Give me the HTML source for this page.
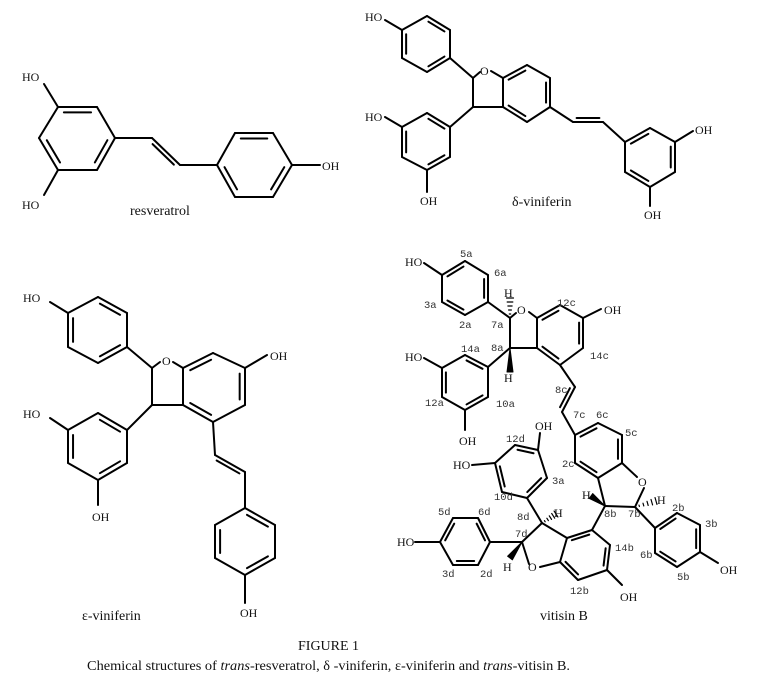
<!DOCTYPE html>
<html><head><meta charset="utf-8"><style>
html,body{margin:0;padding:0;background:#fff;}
svg{display:block;}
text{font-family:"Liberation Serif",serif;fill:#111;}
.t{font-size:12px;}
.l{font-family:"Liberation Mono",monospace;font-size:10.5px;fill:#333;}
.n{font-size:14px;}
</style></head><body>
<svg id="s" width="764" height="673" viewBox="0 0 764 673" xmlns="http://www.w3.org/2000/svg">
<g id="g" stroke="#000" stroke-width="2" fill="none" stroke-linecap="round" stroke-linejoin="round"></g>
<text class="t" x="22" y="81">HO</text>
<text class="t" x="22" y="209">HO</text>
<text class="t" x="322" y="170">OH</text>
<text class="n" x="130" y="215">resveratrol</text>
<text class="t" x="365" y="21">HO</text>
<text class="t" x="480" y="75">O</text>
<text class="t" x="365" y="121">HO</text>
<text class="t" x="420" y="205">OH</text>
<text class="t" x="695" y="134">OH</text>
<text class="t" x="644" y="219">OH</text>
<text class="n" x="512" y="206">δ-viniferin</text>
<text class="t" x="23" y="302">HO</text>
<text class="t" x="162" y="365">O</text>
<text class="t" x="270" y="360">OH</text>
<text class="t" x="23" y="418">HO</text>
<text class="t" x="92" y="521">OH</text>
<text class="t" x="240" y="617">OH</text>
<text class="n" x="82" y="620">ε-viniferin</text>
<text class="t" x="405" y="266">HO</text>
<text class="t" x="504" y="297">H</text>
<text class="t" x="517" y="314">O</text>
<text class="t" x="604" y="314">OH</text>
<text class="t" x="504" y="382">H</text>
<text class="t" x="405" y="361">HO</text>
<text class="t" x="459" y="445">OH</text>
<text class="t" x="535" y="430">OH</text>
<text class="t" x="453" y="469">HO</text>
<text class="t" x="638" y="486">O</text>
<text class="t" x="582" y="499">H</text>
<text class="t" x="657" y="504">H</text>
<text class="t" x="554" y="517">H</text>
<text class="t" x="397" y="546">HO</text>
<text class="t" x="503" y="571">H</text>
<text class="t" x="528" y="571">O</text>
<text class="t" x="620" y="601">OH</text>
<text class="t" x="720" y="574">OH</text>
<text class="n" x="540" y="620">vitisin B</text>
<g class="l">
<text class="l" x="460" y="257">5a</text><text class="l" x="494" y="276">6a</text>
<text class="l" x="424" y="308">3a</text><text class="l" x="459" y="328">2a</text>
<text class="l" x="491" y="328">7a</text><text class="l" x="491" y="351">8a</text>
<text class="l" x="461" y="352">14a</text><text class="l" x="425" y="406">12a</text>
<text class="l" x="496" y="407">10a</text><text class="l" x="557" y="306">12c</text>
<text class="l" x="590" y="359">14c</text><text class="l" x="555" y="393">8c</text>
<text class="l" x="573" y="418">7c</text><text class="l" x="596" y="418">6c</text>
<text class="l" x="625" y="436">5c</text><text class="l" x="562" y="467">2c</text>
<text class="l" x="506" y="442">12d</text><text class="l" x="552" y="484">3a</text>
<text class="l" x="494" y="500">10d</text><text class="l" x="438" y="515">5d</text>
<text class="l" x="478" y="515">6d</text><text class="l" x="517" y="520">8d</text>
<text class="l" x="515" y="537">7d</text><text class="l" x="442" y="577">3d</text>
<text class="l" x="480" y="577">2d</text><text class="l" x="604" y="517">8b</text>
<text class="l" x="628" y="517">7b</text><text class="l" x="672" y="511">2b</text>
<text class="l" x="705" y="527">3b</text><text class="l" x="640" y="558">6b</text>
<text class="l" x="677" y="580">5b</text><text class="l" x="615" y="551">14b</text>
<text class="l" x="570" y="594">12b</text>
</g>
<text class="n" x="298" y="650">FIGURE 1</text>
<text class="n" x="87" y="670" textLength="483" lengthAdjust="spacingAndGlyphs">Chemical structures of <tspan font-style="italic">trans</tspan>-resveratrol, δ -viniferin, ε-viniferin and <tspan font-style="italic">trans</tspan>-vitisin B.</text>
</svg>
<script>
var g=document.getElementById('g'),NS='http://www.w3.org/2000/svg';
function L(a,b,c,d,w){var e=document.createElementNS(NS,'line');e.setAttribute('x1',a);e.setAttribute('y1',b);e.setAttribute('x2',c);e.setAttribute('y2',d);if(w)e.setAttribute('stroke-width',w);g.appendChild(e);}
function R(p,d){var cx=0,cy=0;p.forEach(function(q){cx+=q[0];cy+=q[1]});cx/=6;cy/=6;
for(var i=0;i<6;i++){var a=p[i],b=p[(i+1)%6];L(a[0],a[1],b[0],b[1]);}
d.forEach(function(i){var a=p[i],b=p[(i+1)%6];var f=0.17;
var ax=a[0]+(cx-a[0])*f,ay=a[1]+(cy-a[1])*f,bx=b[0]+(cx-b[0])*f,by=b[1]+(cy-b[1])*f;
var dx=bx-ax,dy=by-ay;
L(ax+dx*0.08,ay+dy*0.08,bx-dx*0.08,by-dy*0.08);});}
function D(a,b,c,d,s){L(a,b,c,d);var dx=c-a,dy=d-b,l=Math.hypot(dx,dy),nx=-dy/l*4*s,ny=dx/l*4*s;L(a+nx+dx*0.12,b+ny+dy*0.12,c+nx-dx*0.12,d+ny-dy*0.12);}
function W(a,b,c,d){var dx=c-a,dy=d-b,l=Math.hypot(dx,dy),nx=-dy/l*3,ny=dx/l*3;var e=document.createElementNS(NS,'polygon');e.setAttribute('points',a+','+b+' '+(c+nx)+','+(d+ny)+' '+(c-nx)+','+(d-ny));e.setAttribute('fill','#000');e.setAttribute('stroke-width','1');g.appendChild(e);}
function H(a,b,c,d){var dx=c-a,dy=d-b,l=Math.hypot(dx,dy);for(var i=1;i<=5;i++){var t=i/5,w=t*3.5,nx=-dy/l*w,ny=dx/l*w,x=a+dx*t,y=b+dy*t;L(x+nx,y+ny,x-nx,y-ny,1.2);}}
R([[58,107],[97,107],[115,138],[97,170],[58,170],[39,138]],[0,2,4]);
L(58,107,44,84);L(58,170,44,195);L(115,138,152,138);D(152,138,180,165,1);L(180,165,217,165);
R([[217,165],[235,133],[273,133],[292,165],[273,197],[235,197]],[1,3,5]);L(292,165,320,165);
R([[427,16],[450,30],[450,58],[427,72],[402,58],[402,30]],[0,2,4]);L(402,30,385,20);
L(450,58,473,78);L(473,78,480,72);L(491,71,503,78);L(473,78,473,107);L(473,107,503,107);L(473,107,450,127);
R([[503,78],[527,65],[550,78],[550,107],[527,122],[503,107]],[0,2,4]);
R([[427,113],[450,127],[450,157],[427,170],[402,157],[402,127]],[0,2,4]);L(402,127,385,117);L(427,170,427,192);
L(550,107,573,122);D(573,122,603,122,-1);L(603,122,625,142);
R([[625,142],[650,128],[675,142],[675,172],[650,187],[625,172]],[0,2,4]);L(675,142,693,131);L(650,187,650,206);
R([[98,297],[127,313],[127,347],[98,363],[68,347],[68,313]],[0,2,4]);L(68,313,50,302);
L(127,347,152,368);L(152,368,160,362);L(173,362,183,368);L(152,368,152,405);L(152,405,183,405);L(152,405,127,430);
R([[183,368],[213,353],[245,368],[245,405],[213,422],[183,405]],[0,2,4]);L(245,368,267,355);
R([[98,413],[127,430],[127,463],[98,480],[68,463],[68,430]],[0,2,4]);L(68,430,50,418);L(98,480,98,505);
L(213,422,215,455);D(215,455,245,472,1);L(245,472,245,508);
R([[245,508],[275,525],[275,558],[245,575],[215,558],[215,525]],[0,2,4]);L(245,575,245,603);
R([[488,302],[488,275],[465,261],[442,275],[442,302],[465,315]],[0,2,4]);L(442,275,424,263);
L(488,302,510,318);H(510,318,510,298);L(510,318,516,313);L(529,312,537,318);L(510,318,510,348);W(510,348,510,372);L(510,348,537,348);
R([[537,318],[560,305],[583,318],[583,348],[560,365],[537,348]],[0,2,4]);L(583,318,601,309);
L(510,348,488,367);
R([[465,355],[488,367],[488,397],[465,410],[442,397],[442,368]],[0,2,4]);L(442,368,424,358);L(465,410,465,430);
L(560,365,575,387);D(575,387,562,412,1);L(562,412,575,435);
R([[575,435],[598,423],[622,435],[622,463],[598,478],[575,463]],[0,2,4]);
L(622,463,637,477);L(644,488,635,507);L(635,507,605,506);L(605,506,598,478);H(635,507,656,501);W(605,506,591,496);
L(635,507,655,528);R([[655,528],[677,513],[700,525],[700,552],[677,567],[655,553]],[0,2,4]);L(700,552,718,563);
L(605,506,592,530);
R([[567,538],[592,530],[610,545],[607,570],[578,580],[560,562]],[0,2,4]);L(607,570,622,585);
L(560,562,540,567);L(529,564,522,542);L(522,542,542,523);L(542,523,567,538);H(542,523,556,514);W(522,542,510,558);
L(542,523,527,498);
R([[527,498],[547,478],[538,450],[515,445],[495,463],[502,492]],[0,2,4]);L(538,450,540,433);L(495,463,472,465);
L(522,542,490,542);
R([[490,542],[478,518],[453,518],[440,542],[453,565],[478,565]],[0,2,4]);L(440,542,415,542);
</script>
</body></html>
